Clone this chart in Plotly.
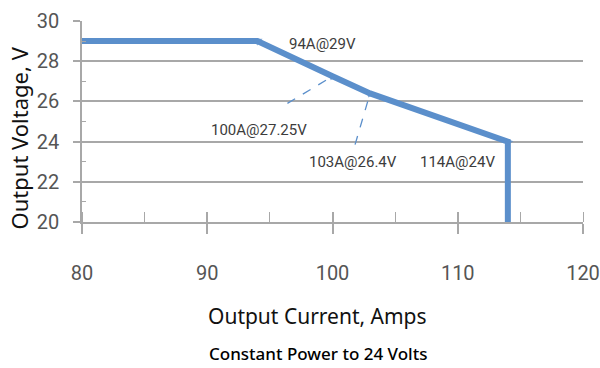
import plotly.graph_objects as go

# Output characteristic: constant voltage, then constant power down to 24 V
current_a = [80, 94, 100, 103, 114, 114]
voltage_v = [29, 29, 27.25, 26.4, 24, 20]

# Operating-point labels
label_text = ["94A@29V", "100A@27.25V", "103A@26.4V", "114A@24V"]
label_x = [99.2, 94.1, 101.6, 110.0]
label_y = [28.85, 24.6, 23.0, 23.0]

# Dashed leaders from two labels to their points
leader1_x = [96.4, 100]
leader1_y = [25.9, 27.25]
leader2_x = [101.8, 103]
leader2_y = [23.85, 26.4]

x_ticks = [80, 90, 100, 110, 120]
y_ticks = [20, 22, 24, 26, 28, 30]

LINE = "#5B8FCB"
GRID = "#A8A8A8"
TICKFONT = "Roboto, sans-serif"
TITLEFONT = "Noto Sans, sans-serif"

fig = go.Figure()

fig.add_trace(go.Scatter(
    x=current_a, y=voltage_v, mode="lines+markers",
    line=dict(color=LINE, width=6),
    marker=dict(symbol="triangle-right", size=[0, 9, 9, 9, 9, 0],
                color=LINE, angleref="previous", line=dict(width=0)),
    hoverinfo="skip", showlegend=False, cliponaxis=False,
))

for lx, ly in ((leader1_x, leader1_y), (leader2_x, leader2_y)):
    fig.add_trace(go.Scatter(
        x=lx, y=ly, mode="lines",
        line=dict(color=LINE, width=1.3, dash="dash"),
        hoverinfo="skip", showlegend=False,
    ))

for t, x, y in zip(label_text, label_x, label_y):
    fig.add_annotation(x=x, y=y, text=t, showarrow=False,
                       font=dict(family=TICKFONT, size=15, color="#3C3C3C"))

# Inside half of the crossing major ticks on the x axis
fig.add_trace(go.Scatter(x=[None], y=[None], xaxis="x2", showlegend=False,
                         hoverinfo="skip"))

# Axis titles and caption
fig.add_annotation(text="Output Current, Amps", xref="paper", yref="paper",
                   x=0.471, y=-0.468, showarrow=False,
                   xanchor="center", yanchor="middle",
                   font=dict(family=TITLEFONT, size=21, color="#111111"))
fig.add_annotation(text="Output Voltage, V", xref="paper", yref="paper",
                   x=-0.126, y=0.42, showarrow=False, textangle=-90,
                   xanchor="center", yanchor="middle",
                   font=dict(family=TITLEFONT, size=22, color="#111111"))
fig.add_annotation(text="Constant Power to 24 Volts", xref="paper",
                   yref="paper", x=0.471, y=-0.655, showarrow=False,
                   xanchor="center", yanchor="middle",
                   font=dict(family=TITLEFONT, size=17, color="#000000",
                             weight=500))

fig.update_layout(
    width=600, height=368,
    margin=dict(l=82, r=17, t=21, b=146),
    paper_bgcolor="white", plot_bgcolor="white",
    xaxis=dict(
        range=[80, 120], tickvals=x_ticks, ticktext=[str(v) for v in x_ticks],
        automargin=False,
        showgrid=False, zeroline=False,
        showline=True, linecolor=GRID, linewidth=1.5,
        ticks="outside", ticklen=10, tickwidth=1.5, tickcolor=GRID,
        ticklabelstandoff=22, ticklabeloverflow="allow",
        tickfont=dict(family=TICKFONT, size=20, color="#555555"),
        minor=dict(dtick=5, ticks="inside", ticklen=10, tickwidth=1.2,
                   tickcolor=GRID, showgrid=False),
    ),
    xaxis2=dict(
        range=[80, 120], overlaying="x", tickvals=x_ticks,
        automargin=False,
        showticklabels=False, showgrid=False, zeroline=False,
        ticks="inside", ticklen=10, tickwidth=1.5, tickcolor=GRID,
        side="bottom", anchor="y",
    ),
    yaxis=dict(
        range=[20, 30], tickvals=y_ticks, ticktext=[str(v) for v in y_ticks],
        automargin=False,
        showgrid=True, gridcolor=GRID, gridwidth=1.5, zeroline=False,
        showline=True, linecolor=GRID, linewidth=1.5,
        ticks="outside", ticklen=7, tickwidth=1.5, tickcolor=GRID,
        ticklabelstandoff=10, ticklabeloverflow="allow",
        tickfont=dict(family=TICKFONT, size=20, color="#555555"),
        minor=dict(dtick=2, tick0=21, ticks="inside", ticklen=4,
                   tickwidth=1.2, tickcolor=GRID, showgrid=False),
    ),
)

fig.write_html("out.html")
